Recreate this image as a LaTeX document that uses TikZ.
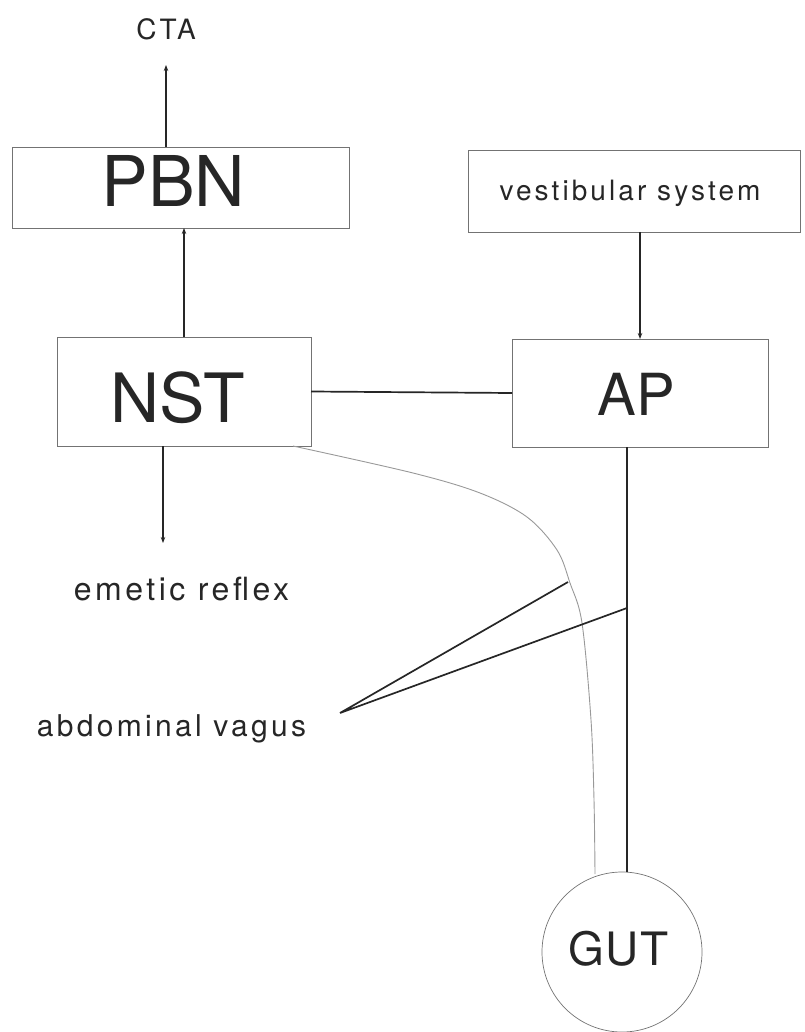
\documentclass[tikz,border=0pt]{standalone}
\usepackage{fontspec}
\setmainfont{TeX Gyre Heros}
\newfontfamily\spaced[LetterSpace=11]{TeX Gyre Heros}
\newfontfamily\slight[LetterSpace=4]{TeX Gyre Heros}
\usetikzlibrary{arrows.meta}
\begin{document}
\begin{tikzpicture}[x=1pt,y=-1pt,
  box/.style={draw=black!55, line width=0.7pt, inner sep=0pt, outer sep=0pt},
  conn/.style={line width=1.7pt, draw=black!85},
  tipped/.style={-{Stealth[length=6pt,width=4.5pt]}},
  txt/.style={inner sep=0pt, anchor=base, text=black!85},
  small/.style={txt, font=\spaced\fontsize{28}{32}\selectfont},
  big/.style={txt, font=\fontsize{#1}{#1}\selectfont},
  gray curve/.style={line width=0.9pt, draw=black!40}]
\useasboundingbox (0,0) rectangle (804,1032);

% boxes
\node[box, minimum width=337pt, minimum height=81pt] (pbn) at (180.5,187.5) {};
\node[box, minimum width=332pt, minimum height=82pt] (vest) at (634,191) {};
\node[box, minimum width=254pt, minimum height=109pt] (nst) at (184,391.5) {};
\node[box, minimum width=256pt, minimum height=108pt] (ap) at (640,393) {};
\node[draw=black!55, line width=0.7pt, circle, minimum size=160pt, inner sep=0pt, outer sep=0pt] (gut) at (622,952) {};

% texts
\node[big=70] (pbnt) at (173.5,207) {PBN};
\node[big=68] (nstt) at (177.5,422) {NST};
\node[big=58] (apt) at (636,415) {AP};
\node[txt, font=\slight\fontsize{46}{46}\selectfont] (gutt) at (618.5,965) {GUT};
\node[small] (vestt) at (630,201) {vestibular system};
\node[txt, font=\spaced\fontsize{28}{32}\selectfont] (cta) at (166,40) {CTA};
\node[txt, font=\spaced\fontsize{32}{36}\selectfont] (emet) at (181.5,600) {emetic reflex};
\node[txt, font=\spaced\fontsize{30}{34}\selectfont] (vagus) at (171.5,736) {abdominal vagus};

% free ends
\coordinate (ctatip) at (166,65);
\coordinate (emtip) at (163,543);
\coordinate (vapex) at (340,713);
\coordinate (v1) at (568,582);
\coordinate (v2) at (627,608);
\coordinate (cstart) at (293,446);
\coordinate (cend) at (595,874);

% connectors
\draw[conn,tipped] (pbn.north -| ctatip) -- (ctatip);
\draw[conn,tipped] (nst.north) -- (pbn.south -| nst.north);
\draw[conn,tipped] (vest.south -| ap.north) -- (ap.north);
\draw[conn,tipped] (nst.south -| emtip) -- (emtip);
\draw[conn] (nst.east) -- (ap.west);
\draw[conn] ([xshift=5pt]gut.north |- ap.south) -- ([xshift=5pt]gut.north);
\draw[gray curve] plot[smooth, tension=0.55] coordinates {(cstart) (413,473) (480,493) (527,517) (557,550) (570,583) (582,623) (591,720) (594,800) (cend)};
\draw[conn, line join=miter] (v1) -- (vapex) -- (v2);
\end{tikzpicture}
\end{document}
